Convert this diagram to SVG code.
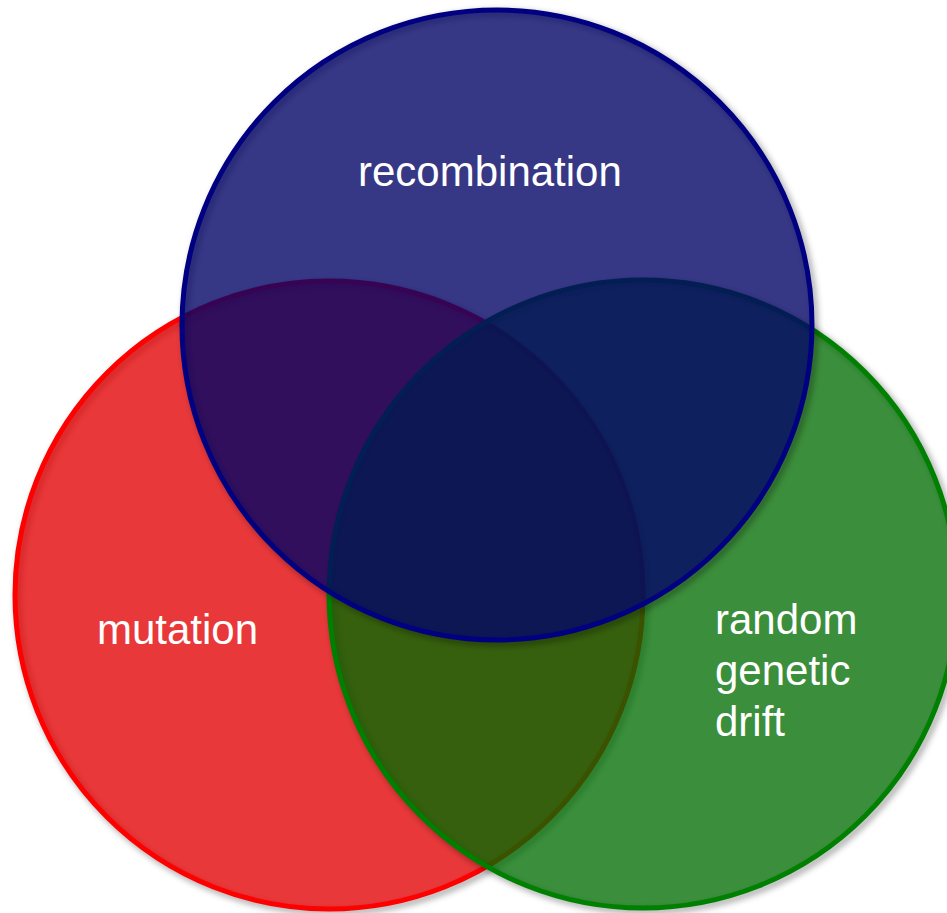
<svg xmlns="http://www.w3.org/2000/svg" width="947" height="913" viewBox="0 0 947 913">
  <defs>
    <filter id="soft" x="-10%" y="-10%" width="120%" height="120%">
      <feGaussianBlur stdDeviation="3"/>
    </filter>
    <style>
      .shadow { fill: none; stroke: #000000; stroke-width: 6; stroke-opacity: 0.35; filter: url(#soft); }
      .lbl { font-family: "Liberation Sans", Arial, sans-serif; font-size: 42px; fill: #ffffff; }
      #mutation .disc { fill: rgb(225,0,3); fill-opacity: 0.78; stroke: #ff0000; stroke-width: 5; }
      #drift .disc { fill: rgb(0,108,0); fill-opacity: 0.77; stroke: #008000; stroke-width: 5; }
      #recombination .disc { fill: rgb(4,5,102); fill-opacity: 0.8; stroke: #000080; stroke-width: 5; }
    </style>
  </defs>
  <rect width="947" height="913" fill="#ffffff"/>
  <g id="mutation">
    <circle class="shadow" cx="332" cy="598" r="314"/>
    <circle class="disc" cx="329" cy="595" r="314"/>
  </g>
  <g id="drift">
    <circle class="shadow" cx="646" cy="597" r="314"/>
    <circle class="disc" cx="643" cy="594" r="314"/>
  </g>
  <g id="recombination">
    <circle class="shadow" cx="500" cy="328" r="315"/>
    <circle class="disc" cx="497" cy="325" r="315"/>
  </g>
  <g id="labels">
    <text class="lbl" x="358" y="186">recombination</text>
    <text class="lbl" x="97" y="644">mutation</text>
    <text class="lbl" x="715" y="634">random</text>
    <text class="lbl" x="715" y="685">genetic</text>
    <text class="lbl" x="715" y="736">drift</text>
  </g>
</svg>
